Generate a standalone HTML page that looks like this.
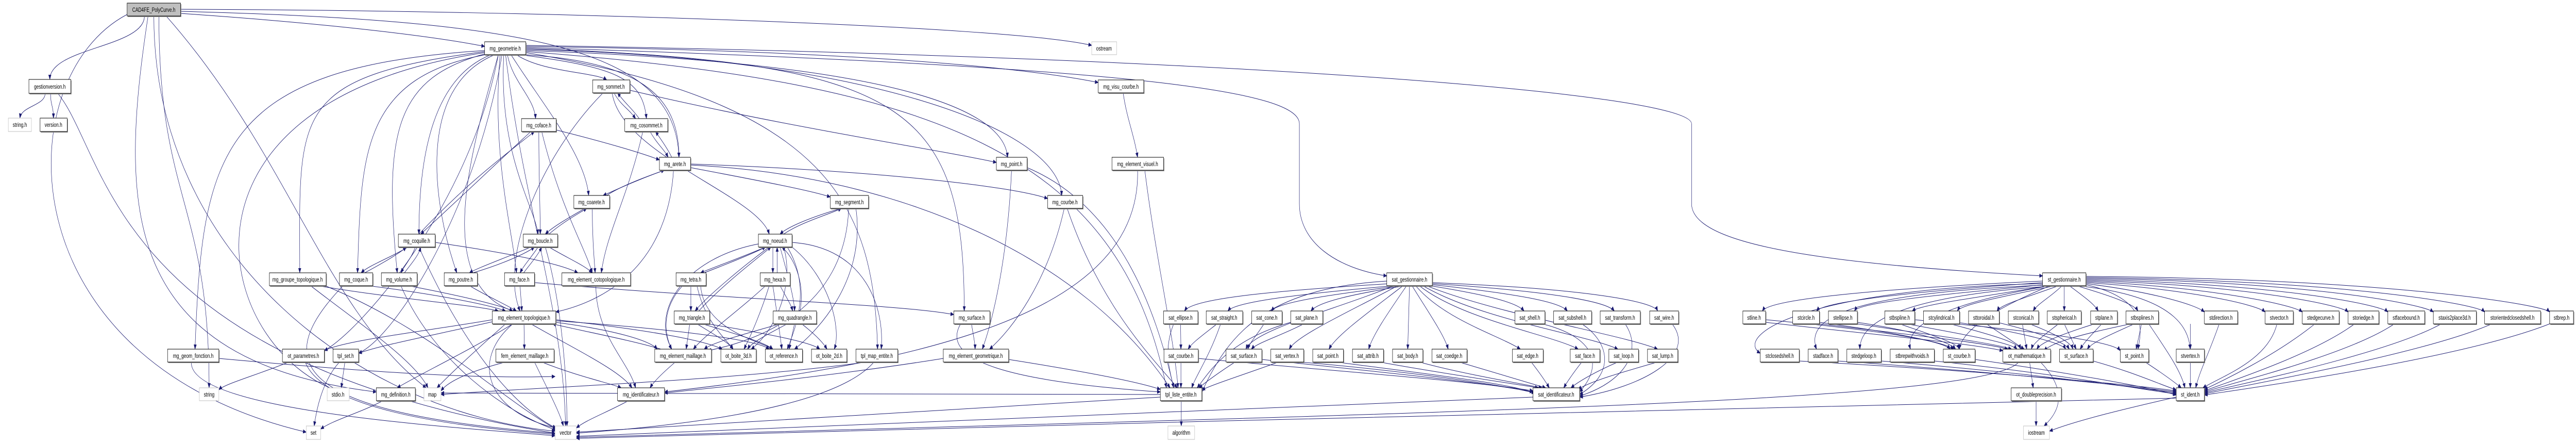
<!DOCTYPE html>
<html><head><meta charset="utf-8">
<style>
html,body{margin:0;padding:0;background:#fff;width:100%;height:100%;overflow:hidden;}
svg{display:block;width:100%;height:100%;}
.e path{fill:none;stroke:#191970;stroke-width:1;}
.n rect.b{fill:#fff;stroke:#000;stroke-width:1;}
.n rect.s{fill:#888;stroke:none;}
.g rect.b{fill:#fff;stroke:#bfbfbf;stroke-width:1;}
text{font-family:"Liberation Sans",sans-serif;font-size:12px;text-anchor:middle;fill:#000;}
</style></head><body>
<svg viewBox="0 0 7133 859" preserveAspectRatio="none" xmlns="http://www.w3.org/2000/svg">
<defs><marker id="a" markerWidth="10" markerHeight="8" refX="9" refY="4" orient="auto" markerUnits="userSpaceOnUse"><path d="M0,0 L10,4 L0,8z" fill="#191970"/></marker></defs>
<g class="e" marker-end="url(#a)">
<path d="M400 31 C400 92 138 92 138 154"/>
<path d="M440 31 C440 391 579 391 579 752"/>
<path d="M352 28 C20 150 10 700 848 838"/>
<path d="M426 31 C426 500 1000 800 1537 836"/>
<path d="M410 31 C330 400 330 700 1042 760"/>
<path d="M460 31 C800 300 900 600 1180 752"/>
<path d="M500 26 C900 45 1200 70 1342 90"/>
<path d="M500 18 C1500 20 2800 50 3023 88"/>
<path d="M500 22 C1500 40 1870 100 1880 305"/>
<path d="M125 181 C125 205 60 205 55 229"/>
<path d="M140 181 C140 205 148 205 148 229"/>
<path d="M160 181 C300 300 300 700 1537 840"/>
<path d="M1430 106 C1500 140 1650 140 1680 155"/>
<path d="M1440 106 C1700 130 1780 150 1790 230"/>
<path d="M1450 106 C1800 120 1880 200 1880 305"/>
<path d="M1415 106 C1500 200 1620 300 1630 379"/>
<path d="M1405 106 C1420 160 1480 190 1483 230"/>
<path d="M1395 106 C1380 300 1480 400 1490 454"/>
<path d="M1385 106 C1360 300 1420 450 1430 529"/>
<path d="M1360 106 C1200 150 1160 300 1160 454"/>
<path d="M1345 106 C1000 150 1000 300 990 529"/>
<path d="M1345 104 C1100 150 1060 250 1100 529"/>
<path d="M1370 106 C1150 170 1200 400 1265 529"/>
<path d="M1342 100 C800 150 830 220 830 529"/>
<path d="M1342 98 C600 130 560 300 540 677"/>
<path d="M1380 106 C1300 300 1200 550 1420 603"/>
<path d="M1456 98 C2400 120 2780 200 2790 305"/>
<path d="M1456 96 C2400 110 2930 250 2940 379"/>
<path d="M1456 94 C2500 120 2670 200 2670 603"/>
<path d="M1456 90 C2500 100 2900 140 3041 160"/>
<path d="M1456 100 C2600 160 3100 300 3230 752"/>
<path d="M1456 102 C2300 200 2420 400 2430 677"/>
<path d="M1380 106 C1300 400 1000 640 898 680"/>
<path d="M1390 106 C1320 400 1100 650 993 685"/>
<path d="M1342 102 C400 200 600 700 967 765"/>
<path d="M1400 106 C1450 400 1560 600 1566 826"/>
<path d="M1456 92 C3200 130 3598 180 3598 240 L3598 395 C3598 470 3700 520 3840 535"/>
<path d="M1456 88 C3400 110 4684 180 4684 240 L4684 395 C4684 470 5000 510 5656 535"/>
<path d="M1700 180 C1720 205 1740 210 1760 230"/>
<path d="M1770 230 C1750 210 1730 200 1710 180"/>
<path d="M1695 180 C1720 300 2100 380 2130 454"/>
<path d="M1670 180 C1500 300 1380 500 1440 603"/>
<path d="M1744 175 C2200 250 2600 290 2759 315"/>
<path d="M1800 255 C1820 280 1840 290 1850 305"/>
<path d="M1860 305 C1850 290 1830 270 1815 255"/>
<path d="M1780 255 C1740 380 1680 450 1665 529"/>
<path d="M1492 255 C1492 350 1496 400 1496 454"/>
<path d="M1500 255 C1550 400 1620 480 1640 529"/>
<path d="M1540 252 C1700 280 1790 300 1826 310"/>
<path d="M1160 454 C1300 350 1400 300 1480 255"/>
<path d="M1470 255 C1400 300 1250 400 1165 454"/>
<path d="M1840 330 C1760 350 1700 370 1670 379"/>
<path d="M1680 379 C1720 360 1800 340 1840 330"/>
<path d="M1912 325 C2100 350 2250 370 2299 382"/>
<path d="M1865 330 C1850 500 1700 580 1539 605"/>
<path d="M1912 320 C2500 340 3000 500 3240 752"/>
<path d="M1912 318 C2400 330 2800 360 2901 385"/>
<path d="M1620 404 C1580 420 1530 440 1510 454"/>
<path d="M1520 454 C1560 430 1600 415 1625 404"/>
<path d="M1640 404 C1640 460 1645 500 1648 529"/>
<path d="M2330 404 C2250 420 2180 440 2160 454"/>
<path d="M2170 454 C2220 430 2300 415 2330 404"/>
<path d="M2350 404 C2340 600 2100 660 1960 680"/>
<path d="M2370 404 C2400 550 2250 650 2200 677"/>
<path d="M2947 404 C2900 550 2800 640 2740 677"/>
<path d="M2955 404 C3050 600 3200 700 3260 752"/>
<path d="M2801 330 C2790 500 2750 620 2720 677"/>
<path d="M2844 325 C3100 400 3200 600 3250 752"/>
<path d="M3110 180 C3120 230 3140 260 3150 305"/>
<path d="M3150 330 C3160 600 2600 700 1840 760"/>
<path d="M3170 330 C3200 500 3250 650 3262 752"/>
<path d="M1130 479 C1080 500 1020 515 1000 529"/>
<path d="M1010 529 C1060 510 1110 490 1125 479"/>
<path d="M1150 479 C1140 500 1120 515 1110 529"/>
<path d="M1120 529 C1140 510 1160 495 1165 479"/>
<path d="M1160 479 C1300 700 1450 800 1540 830"/>
<path d="M1205 470 C1400 490 1550 510 1600 529"/>
<path d="M1470 479 C1400 500 1320 520 1300 529"/>
<path d="M1310 529 C1400 510 1460 490 1480 479"/>
<path d="M1490 479 C1470 500 1450 515 1440 529"/>
<path d="M1450 529 C1470 510 1490 495 1500 479"/>
<path d="M1520 479 C1570 500 1620 515 1640 529"/>
<path d="M1510 479 C1560 600 1570 750 1570 826"/>
<path d="M2120 479 C2050 500 1970 520 1940 529"/>
<path d="M1950 529 C2020 510 2090 490 2120 479"/>
<path d="M2140 479 L2140 529"/>
<path d="M2152 529 L2152 479"/>
<path d="M2130 479 C2050 520 1950 580 1925 603"/>
<path d="M1935 603 C1990 560 2080 510 2135 479"/>
<path d="M2160 479 C2180 530 2200 580 2200 603"/>
<path d="M2215 603 C2230 550 2200 500 2165 479"/>
<path d="M2100 473 C1900 500 1800 600 1860 677"/>
<path d="M2170 479 C2200 550 2150 640 2080 677"/>
<path d="M2180 479 C2250 560 2200 640 2180 677"/>
<path d="M2193 479 C2300 540 2330 640 2310 677"/>
<path d="M2193 470 C2400 480 2450 600 2440 677"/>
<path d="M880 554 C1100 580 1300 590 1380 603"/>
<path d="M860 554 C1000 630 1150 700 1185 752"/>
<path d="M900 554 C1200 640 1400 780 1540 832"/>
<path d="M1020 554 C1200 570 1350 590 1400 603"/>
<path d="M950 554 C750 700 800 800 1537 840"/>
<path d="M1130 554 C1250 570 1380 590 1420 603"/>
<path d="M1110 554 C1200 700 1400 800 1540 834"/>
<path d="M1300 554 C1350 575 1400 590 1430 603"/>
<path d="M1440 554 L1445 603"/>
<path d="M1480 548 C2000 580 2500 590 2641 610"/>
<path d="M1650 554 C1650 650 1740 700 1760 752"/>
<path d="M1913 554 L1913 603"/>
<path d="M1890 554 C1830 600 1840 650 1860 677"/>
<path d="M1930 554 C1950 620 2000 650 2030 677"/>
<path d="M1940 554 C1950 640 2100 660 2140 677"/>
<path d="M2160 554 C2180 580 2190 590 2195 603"/>
<path d="M2120 554 C2050 600 1950 650 1920 677"/>
<path d="M2130 554 C2110 600 2080 650 2060 677"/>
<path d="M2140 554 C2150 600 2160 650 2165 677"/>
<path d="M1451 628 L1452 677"/>
<path d="M1470 628 C1600 680 1720 720 1750 752"/>
<path d="M1420 628 C1300 700 1350 800 1540 830"/>
<path d="M1539 625 C1700 640 1800 660 1820 677"/>
<path d="M1830 677 C1750 660 1600 640 1530 628"/>
<path d="M1363 620 C1200 640 950 660 898 680"/>
<path d="M1363 624 C1200 650 1050 670 993 685"/>
<path d="M1420 628 C1300 680 1150 730 1100 752"/>
<path d="M1400 628 C1300 690 1240 730 1210 752"/>
<path d="M1539 620 C1800 640 1950 660 2000 677"/>
<path d="M1539 622 C1900 640 2100 660 2130 677"/>
<path d="M1910 628 L1900 677"/>
<path d="M1930 628 C1980 650 2020 665 2030 677"/>
<path d="M1945 628 C2050 650 2120 665 2140 677"/>
<path d="M1960 628 C2150 650 2250 665 2270 677"/>
<path d="M2160 628 C2050 650 1970 665 1950 677"/>
<path d="M2180 628 C2120 650 2080 665 2070 677"/>
<path d="M2200 628 L2185 677"/>
<path d="M2220 628 C2260 650 2280 665 2290 677"/>
<path d="M1500 702 C1600 730 1700 745 1720 752"/>
<path d="M1480 702 C1520 760 1550 800 1560 826"/>
<path d="M1400 702 C1300 720 1240 740 1221 758"/>
<path d="M1870 702 C1840 720 1810 740 1800 752"/>
<path d="M1740 777 C1680 800 1620 815 1596 830"/>
<path d="M2400 702 C2000 740 1500 750 1221 765"/>
<path d="M2420 702 C2300 800 1800 830 1596 840"/>
<path d="M2690 628 C2695 650 2700 665 2700 677"/>
<path d="M2660 628 C2600 700 2800 740 3213 760"/>
<path d="M2612 695 C2300 730 2000 750 1840 762"/>
<path d="M2793 697 C3000 720 3150 740 3213 755"/>
<path d="M3271 777 L3271 826"/>
<path d="M3213 770 C2500 800 1800 830 1596 838"/>
<path d="M3213 765 C2500 770 1800 762 1221 762"/>
<path d="M800 702 C700 730 620 745 606 756"/>
<path d="M845 702 C900 800 1300 830 1537 842"/>
<path d="M955 702 L945 752"/>
<path d="M940 702 C890 740 875 800 870 826"/>
<path d="M1060 777 C1000 800 920 815 888 832"/>
<path d="M530 702 C520 800 1300 830 1537 845"/>
<path d="M606 695 C1000 720 1300 735 1537 730"/>
<path d="M3850 550 C3500 565 3300 580 3280 603"/>
<path d="M3860 554 C3600 570 3420 585 3400 603"/>
<path d="M3880 554 C3700 570 3540 585 3520 603"/>
<path d="M3890 554 C3750 570 3650 585 3630 603"/>
<path d="M3960 554 C4100 570 4200 585 4220 603"/>
<path d="M3966 552 C4200 570 4320 585 4340 603"/>
<path d="M3966 550 C4300 565 4450 585 4470 603"/>
<path d="M3966 548 C4400 560 4580 585 4590 603"/>
<path d="M3860 554 C3700 600 3470 640 3450 677"/>
<path d="M3870 554 C3750 600 3590 650 3570 677"/>
<path d="M3885 554 C3800 600 3700 650 3680 677"/>
<path d="M3895 554 C3850 600 3800 650 3790 677"/>
<path d="M3903 554 L3898 677"/>
<path d="M3910 554 C3950 600 4000 650 4010 677"/>
<path d="M3920 554 C4000 620 4150 650 4210 677"/>
<path d="M3930 554 C4050 620 4300 650 4370 677"/>
<path d="M3940 554 C4100 620 4400 650 4480 677"/>
<path d="M3950 554 C4150 610 4500 650 4590 677"/>
<path d="M3840 545 C3500 560 3400 650 3328 760"/>
<path d="M3269 628 L3270 677"/>
<path d="M3250 628 C3220 680 3240 720 3250 752"/>
<path d="M3370 628 C3330 650 3300 665 3290 677"/>
<path d="M3380 628 C3350 690 3310 730 3300 752"/>
<path d="M3500 628 C3480 650 3460 665 3455 677"/>
<path d="M3610 628 C3550 650 3480 665 3465 677"/>
<path d="M3574 625 C3400 660 3350 720 3315 752"/>
<path d="M4270 628 C4400 650 4450 700 4374 760"/>
<path d="M4380 628 C4450 660 4480 720 4374 765"/>
<path d="M4500 628 C4550 680 4500 740 4374 768"/>
<path d="M4630 628 C4700 690 4550 750 4374 770"/>
<path d="M3318 695 C3700 720 4100 740 4245 758"/>
<path d="M3494 697 C3800 720 4100 740 4245 760"/>
<path d="M3600 702 C3900 720 4150 745 4250 762"/>
<path d="M3700 702 C3950 725 4200 745 4255 764"/>
<path d="M3820 702 C4000 725 4200 745 4260 752"/>
<path d="M3930 702 C4050 725 4220 745 4270 752"/>
<path d="M4040 702 C4150 725 4250 745 4280 752"/>
<path d="M4240 702 C4260 720 4280 740 4290 752"/>
<path d="M4380 702 C4360 720 4340 740 4330 752"/>
<path d="M4480 702 C4420 720 4370 740 4350 752"/>
<path d="M4590 702 C4500 720 4400 740 4370 755"/>
<path d="M3270 702 L3270 752"/>
<path d="M3420 702 C3380 720 3340 740 3320 752"/>
<path d="M3540 702 C3450 725 3360 745 3328 756"/>
<path d="M4245 770 C3000 800 2000 830 1596 846"/>
<path d="M5656 545 C5200 560 4900 580 4880 603"/>
<path d="M5656 548 C5300 565 5050 585 5030 603"/>
<path d="M5660 552 C5400 570 5150 585 5135 603"/>
<path d="M5670 554 C5500 575 5320 590 5295 603"/>
<path d="M5690 554 C5550 575 5430 590 5420 603"/>
<path d="M5700 554 C5620 575 5540 590 5530 603"/>
<path d="M5710 554 C5680 575 5640 590 5630 603"/>
<path d="M5716 554 L5716 603"/>
<path d="M5730 554 C5770 575 5800 590 5810 603"/>
<path d="M5750 554 C5850 575 5910 590 5920 603"/>
<path d="M5776 550 C5950 565 6080 590 6104 605"/>
<path d="M5776 548 C6050 560 6250 590 6272 605"/>
<path d="M5776 546 C6100 555 6350 590 6375 605"/>
<path d="M5776 544 C6200 552 6480 590 6502 605"/>
<path d="M5776 542 C6300 550 6590 590 6612 605"/>
<path d="M5776 540 C6400 546 6710 590 6738 605"/>
<path d="M5776 538 C6500 544 6860 590 6880 605"/>
<path d="M5776 536 C6600 540 7040 590 7060 605"/>
<path d="M5656 550 C5000 560 4800 650 4874 685"/>
<path d="M5656 553 C5100 570 5000 620 5030 677"/>
<path d="M5656 556 C5200 580 5150 640 5150 677"/>
<path d="M5660 556 C5300 600 5280 650 5290 677"/>
<path d="M5670 556 C5450 620 5430 660 5425 677"/>
<path d="M5776 552 C5950 580 5930 640 5920 677"/>
<path d="M5776 556 C6050 580 6060 650 6065 677"/>
<path d="M4889 620 C5200 640 5380 660 5400 677"/>
<path d="M4889 625 C5200 650 5450 665 5546 680"/>
<path d="M5038 625 C5250 645 5390 665 5410 677"/>
<path d="M5038 628 C5300 650 5500 665 5560 677"/>
<path d="M5143 625 C5330 645 5400 665 5415 677"/>
<path d="M5143 628 C5350 650 5520 665 5570 677"/>
<path d="M5260 628 C5350 650 5420 665 5425 677"/>
<path d="M5280 628 C5450 650 5570 665 5585 677"/>
<path d="M5302 620 C5600 640 5850 660 5871 680"/>
<path d="M5400 628 C5520 650 5590 665 5595 677"/>
<path d="M5420 625 C5600 645 5710 665 5720 677"/>
<path d="M5500 628 L5605 677"/>
<path d="M5530 625 C5650 645 5720 665 5730 677"/>
<path d="M5600 628 L5612 677"/>
<path d="M5620 628 C5700 650 5735 665 5740 677"/>
<path d="M5700 628 C5660 650 5630 665 5625 677"/>
<path d="M5716 628 L5749 677"/>
<path d="M5800 628 C5700 650 5650 665 5640 677"/>
<path d="M5820 628 C5790 650 5770 665 5760 677"/>
<path d="M5900 628 C5750 650 5680 665 5660 680"/>
<path d="M5910 628 C5840 650 5790 665 5780 677"/>
<path d="M5930 628 L5915 677"/>
<path d="M5950 628 C6000 680 6040 720 6050 752"/>
<path d="M6145 628 C6120 680 6090 720 6080 752"/>
<path d="M6305 628 C6280 700 6150 730 6100 752"/>
<path d="M6410 628 C6300 690 6150 740 6104 755"/>
<path d="M6520 628 C6400 690 6150 745 6104 758"/>
<path d="M6630 628 C6500 690 6150 748 6104 760"/>
<path d="M6760 628 C6600 690 6150 752 6104 762"/>
<path d="M6900 628 C6700 690 6150 755 6104 764"/>
<path d="M7060 628 C6800 700 6150 760 6104 766"/>
<path d="M4982 700 C5500 720 5900 745 6026 758"/>
<path d="M5089 700 C5500 720 5900 748 6026 760"/>
<path d="M5209 700 C5600 722 5900 750 6026 762"/>
<path d="M5356 700 C5700 725 5900 752 6026 764"/>
<path d="M5469 697 C5700 720 5950 750 6026 766"/>
<path d="M5796 700 C5900 720 5980 745 6026 756"/>
<path d="M5940 702 C5990 725 6020 740 6040 752"/>
<path d="M6065 702 L6065 752"/>
<path d="M6065 628 L6065 677"/>
<path d="M5620 702 L5630 752"/>
<path d="M5650 702 C5730 760 5700 800 5660 826"/>
<path d="M5590 702 C5500 780 4000 800 1596 848"/>
<path d="M5638 777 L5638 826"/>
<path d="M6026 772 C5000 790 3000 820 1596 850"/>
<path d="M6026 770 C5900 790 5750 815 5675 836"/>
</g>
<g class="n">
<rect class="s" x="354" y="8" width="148" height="25"/><rect x="352" y="6" width="148" height="25" fill="#bfbfbf" stroke="#000"/><text x="426" y="23">CAD4FE_PolyCurve.h</text>
<rect class="s" x="82" y="156" width="116" height="27"/><rect class="b" x="80" y="154" width="116" height="27"/><text x="138" y="172">gestionversion.h</text>
<rect class="s" x="113" y="231" width="75" height="26"/><rect class="b" x="111" y="229" width="75" height="26"/><text x="148" y="246">version.h</text>
<rect class="s" x="1344" y="83" width="114" height="25"/><rect class="b" x="1342" y="81" width="114" height="25"/><text x="1399" y="98">mg_geometrie.h</text>
<rect class="s" x="1643" y="157" width="103" height="25"/><rect class="b" x="1641" y="155" width="103" height="25"/><text x="1692" y="172">mg_sommet.h</text>
<rect class="s" x="3043" y="157" width="126" height="25"/><rect class="b" x="3041" y="155" width="126" height="25"/><text x="3104" y="172">mg_visu_courbe.h</text>
<rect class="s" x="1446" y="232" width="96" height="25"/><rect class="b" x="1444" y="230" width="96" height="25"/><text x="1492" y="247">mg_coface.h</text>
<rect class="s" x="1732" y="232" width="119" height="25"/><rect class="b" x="1730" y="230" width="119" height="25"/><text x="1790" y="247">mg_cosommet.h</text>
<rect class="s" x="1828" y="307" width="86" height="25"/><rect class="b" x="1826" y="305" width="86" height="25"/><text x="1869" y="322">mg_arete.h</text>
<rect class="s" x="2761" y="307" width="85" height="25"/><rect class="b" x="2759" y="305" width="85" height="25"/><text x="2801" y="322">mg_point.h</text>
<rect class="s" x="3081" y="307" width="143" height="25"/><rect class="b" x="3079" y="305" width="143" height="25"/><text x="3150" y="322">mg_element_visuel.h</text>
<rect class="s" x="1591" y="381" width="99" height="25"/><rect class="b" x="1589" y="379" width="99" height="25"/><text x="1638" y="396">mg_coarete.h</text>
<rect class="s" x="2301" y="381" width="106" height="25"/><rect class="b" x="2299" y="379" width="106" height="25"/><text x="2352" y="396">mg_segment.h</text>
<rect class="s" x="2903" y="381" width="97" height="25"/><rect class="b" x="2901" y="379" width="97" height="25"/><text x="2949" y="396">mg_courbe.h</text>
<rect class="s" x="1105" y="456" width="102" height="25"/><rect class="b" x="1103" y="454" width="102" height="25"/><text x="1154" y="471">mg_coquille.h</text>
<rect class="s" x="1451" y="456" width="95" height="25"/><rect class="b" x="1449" y="454" width="95" height="25"/><text x="1496" y="471">mg_boucle.h</text>
<rect class="s" x="2102" y="456" width="93" height="25"/><rect class="b" x="2100" y="454" width="93" height="25"/><text x="2146" y="471">mg_noeud.h</text>
<rect class="s" x="748" y="531" width="157" height="25"/><rect class="b" x="746" y="529" width="157" height="25"/><text x="824" y="546">mg_groupe_topologique.h</text>
<rect class="s" x="942" y="531" width="92" height="25"/><rect class="b" x="940" y="529" width="92" height="25"/><text x="986" y="546">mg_coque.h</text>
<rect class="s" x="1058" y="531" width="99" height="25"/><rect class="b" x="1056" y="529" width="99" height="25"/><text x="1105" y="546">mg_volume.h</text>
<rect class="s" x="1232" y="531" width="92" height="25"/><rect class="b" x="1230" y="529" width="92" height="25"/><text x="1276" y="546">mg_poutre.h</text>
<rect class="s" x="1399" y="531" width="83" height="25"/><rect class="b" x="1397" y="529" width="83" height="25"/><text x="1438" y="546">mg_face.h</text>
<rect class="s" x="1558" y="531" width="190" height="25"/><rect class="b" x="1556" y="529" width="190" height="25"/><text x="1651" y="546">mg_element_cotopologique.h</text>
<rect class="s" x="1874" y="531" width="83" height="25"/><rect class="b" x="1872" y="529" width="83" height="25"/><text x="1913" y="546">mg_tetra.h</text>
<rect class="s" x="2107" y="531" width="83" height="25"/><rect class="b" x="2105" y="529" width="83" height="25"/><text x="2146" y="546">mg_hexa.h</text>
<rect class="s" x="3842" y="531" width="126" height="25"/><rect class="b" x="3840" y="529" width="126" height="25"/><text x="3903" y="546">sat_gestionnaire.h</text>
<rect class="s" x="5658" y="531" width="120" height="25"/><rect class="b" x="5656" y="529" width="120" height="25"/><text x="5716" y="546">st_gestionnaire.h</text>
<rect class="s" x="1365" y="605" width="176" height="25"/><rect class="b" x="1363" y="603" width="176" height="25"/><text x="1451" y="620">mg_element_topologique.h</text>
<rect class="s" x="1869" y="605" width="98" height="25"/><rect class="b" x="1867" y="603" width="98" height="25"/><text x="1916" y="620">mg_triangle.h</text>
<rect class="s" x="2143" y="605" width="120" height="25"/><rect class="b" x="2141" y="603" width="120" height="25"/><text x="2201" y="620">mg_quadrangle.h</text>
<rect class="s" x="2643" y="605" width="100" height="25"/><rect class="b" x="2641" y="603" width="100" height="25"/><text x="2691" y="620">mg_surface.h</text>
<rect class="s" x="3224" y="605" width="95" height="25"/><rect class="b" x="3222" y="603" width="95" height="25"/><text x="3269" y="620">sat_ellipse.h</text>
<rect class="s" x="3342" y="605" width="101" height="25"/><rect class="b" x="3340" y="603" width="101" height="25"/><text x="3390" y="620">sat_straight.h</text>
<rect class="s" x="3468" y="605" width="84" height="25"/><rect class="b" x="3466" y="603" width="84" height="25"/><text x="3508" y="620">sat_cone.h</text>
<rect class="s" x="3576" y="605" width="89" height="25"/><rect class="b" x="3574" y="603" width="89" height="25"/><text x="3618" y="620">sat_plane.h</text>
<rect class="s" x="4197" y="605" width="83" height="25"/><rect class="b" x="4195" y="603" width="83" height="25"/><text x="4236" y="620">sat_shell.h</text>
<rect class="s" x="4304" y="605" width="105" height="25"/><rect class="b" x="4302" y="603" width="105" height="25"/><text x="4354" y="620">sat_subshell.h</text>
<rect class="s" x="4433" y="605" width="111" height="25"/><rect class="b" x="4431" y="603" width="111" height="25"/><text x="4486" y="620">sat_transform.h</text>
<rect class="s" x="4570" y="605" width="80" height="25"/><rect class="b" x="4568" y="603" width="80" height="25"/><text x="4608" y="620">sat_wire.h</text>
<rect class="s" x="4828" y="605" width="63" height="25"/><rect class="b" x="4826" y="603" width="63" height="25"/><text x="4857" y="620">stline.h</text>
<rect class="s" x="4966" y="605" width="74" height="25"/><rect class="b" x="4964" y="603" width="74" height="25"/><text x="5001" y="620">stcircle.h</text>
<rect class="s" x="5065" y="605" width="80" height="25"/><rect class="b" x="5063" y="603" width="80" height="25"/><text x="5103" y="620">stellipse.h</text>
<rect class="s" x="5221" y="605" width="83" height="25"/><rect class="b" x="5219" y="603" width="83" height="25"/><text x="5260" y="620">stbspline.h</text>
<rect class="s" x="5328" y="605" width="100" height="25"/><rect class="b" x="5326" y="603" width="100" height="25"/><text x="5376" y="620">stcylindrical.h</text>
<rect class="s" x="5453" y="605" width="85" height="25"/><rect class="b" x="5451" y="603" width="85" height="25"/><text x="5493" y="620">sttoroidal.h</text>
<rect class="s" x="5563" y="605" width="84" height="25"/><rect class="b" x="5561" y="603" width="84" height="25"/><text x="5603" y="620">stconical.h</text>
<rect class="s" x="5671" y="605" width="94" height="25"/><rect class="b" x="5669" y="603" width="94" height="25"/><text x="5716" y="620">stspherical.h</text>
<rect class="s" x="5791" y="605" width="74" height="25"/><rect class="b" x="5789" y="603" width="74" height="25"/><text x="5826" y="620">stplane.h</text>
<rect class="s" x="5889" y="605" width="90" height="25"/><rect class="b" x="5887" y="603" width="90" height="25"/><text x="5932" y="620">stbsplines.h</text>
<rect class="s" x="6106" y="605" width="92" height="25"/><rect class="b" x="6104" y="603" width="92" height="25"/><text x="6150" y="620">stdirection.h</text>
<rect class="s" x="6274" y="605" width="78" height="25"/><rect class="b" x="6272" y="603" width="78" height="25"/><text x="6311" y="620">stvector.h</text>
<rect class="s" x="6377" y="605" width="102" height="25"/><rect class="b" x="6375" y="603" width="102" height="25"/><text x="6426" y="620">stedgecurve.h</text>
<rect class="s" x="6504" y="605" width="85" height="25"/><rect class="b" x="6502" y="603" width="85" height="25"/><text x="6544" y="620">storiedge.h</text>
<rect class="s" x="6614" y="605" width="102" height="25"/><rect class="b" x="6612" y="603" width="102" height="25"/><text x="6663" y="620">stfacebound.h</text>
<rect class="s" x="6740" y="605" width="119" height="25"/><rect class="b" x="6738" y="603" width="119" height="25"/><text x="6797" y="620">staxis2place3d.h</text>
<rect class="s" x="6882" y="605" width="155" height="25"/><rect class="b" x="6880" y="603" width="155" height="25"/><text x="6957" y="620">storientedclosedshell.h</text>
<rect class="s" x="7062" y="605" width="66" height="25"/><rect class="b" x="7060" y="603" width="66" height="25"/><text x="7093" y="620">stbrep.h</text>
<rect class="s" x="466" y="679" width="142" height="25"/><rect class="b" x="464" y="677" width="142" height="25"/><text x="535" y="694">mg_geom_fonction.h</text>
<rect class="s" x="784" y="679" width="116" height="25"/><rect class="b" x="782" y="677" width="116" height="25"/><text x="840" y="694">ot_parametres.h</text>
<rect class="s" x="924" y="679" width="71" height="25"/><rect class="b" x="922" y="677" width="71" height="25"/><text x="957" y="694">tpl_set.h</text>
<rect class="s" x="1375" y="679" width="161" height="25"/><rect class="b" x="1373" y="677" width="161" height="25"/><text x="1453" y="694">fem_element_maillage.h</text>
<rect class="s" x="1815" y="679" width="157" height="25"/><rect class="b" x="1813" y="677" width="157" height="25"/><text x="1891" y="694">mg_element_maillage.h</text>
<rect class="s" x="1998" y="679" width="98" height="25"/><rect class="b" x="1996" y="677" width="98" height="25"/><text x="2045" y="694">ot_boite_3d.h</text>
<rect class="s" x="2121" y="679" width="103" height="25"/><rect class="b" x="2119" y="677" width="103" height="25"/><text x="2170" y="694">ot_reference.h</text>
<rect class="s" x="2249" y="679" width="98" height="25"/><rect class="b" x="2247" y="677" width="98" height="25"/><text x="2296" y="694">ot_boite_2d.h</text>
<rect class="s" x="2372" y="679" width="116" height="25"/><rect class="b" x="2370" y="677" width="116" height="25"/><text x="2428" y="694">tpl_map_entite.h</text>
<rect class="s" x="2614" y="679" width="181" height="25"/><rect class="b" x="2612" y="677" width="181" height="25"/><text x="2702" y="694">mg_element_geometrique.h</text>
<rect class="s" x="3225" y="679" width="95" height="25"/><rect class="b" x="3223" y="677" width="95" height="25"/><text x="3270" y="694">sat_courbe.h</text>
<rect class="s" x="3397" y="679" width="99" height="25"/><rect class="b" x="3395" y="677" width="99" height="25"/><text x="3444" y="694">sat_surface.h</text>
<rect class="s" x="3521" y="679" width="91" height="25"/><rect class="b" x="3519" y="677" width="91" height="25"/><text x="3564" y="694">sat_vertex.h</text>
<rect class="s" x="3637" y="679" width="85" height="25"/><rect class="b" x="3635" y="677" width="85" height="25"/><text x="3677" y="694">sat_point.h</text>
<rect class="s" x="3747" y="679" width="86" height="25"/><rect class="b" x="3745" y="677" width="86" height="25"/><text x="3788" y="694">sat_attrib.h</text>
<rect class="s" x="3858" y="679" width="84" height="25"/><rect class="b" x="3856" y="677" width="84" height="25"/><text x="3898" y="694">sat_body.h</text>
<rect class="s" x="3967" y="679" width="97" height="25"/><rect class="b" x="3965" y="677" width="97" height="25"/><text x="4013" y="694">sat_coedge.h</text>
<rect class="s" x="4190" y="679" width="85" height="25"/><rect class="b" x="4188" y="677" width="85" height="25"/><text x="4230" y="694">sat_edge.h</text>
<rect class="s" x="4350" y="679" width="82" height="25"/><rect class="b" x="4348" y="677" width="82" height="25"/><text x="4389" y="694">sat_face.h</text>
<rect class="s" x="4457" y="679" width="82" height="25"/><rect class="b" x="4455" y="677" width="82" height="25"/><text x="4496" y="694">sat_loop.h</text>
<rect class="s" x="4564" y="679" width="84" height="25"/><rect class="b" x="4562" y="677" width="84" height="25"/><text x="4604" y="694">sat_lump.h</text>
<rect class="s" x="4876" y="679" width="108" height="25"/><rect class="b" x="4874" y="677" width="108" height="25"/><text x="4928" y="694">stclosedshell.h</text>
<rect class="s" x="5009" y="679" width="82" height="25"/><rect class="b" x="5007" y="677" width="82" height="25"/><text x="5048" y="694">stadface.h</text>
<rect class="s" x="5116" y="679" width="95" height="25"/><rect class="b" x="5114" y="677" width="95" height="25"/><text x="5161" y="694">stedgeloop.h</text>
<rect class="s" x="5236" y="679" width="122" height="25"/><rect class="b" x="5234" y="677" width="122" height="25"/><text x="5295" y="694">stbrepwithvoids.h</text>
<rect class="s" x="5383" y="679" width="88" height="25"/><rect class="b" x="5381" y="677" width="88" height="25"/><text x="5425" y="694">st_courbe.h</text>
<rect class="s" x="5548" y="679" width="132" height="25"/><rect class="b" x="5546" y="677" width="132" height="25"/><text x="5612" y="694">ot_mathematique.h</text>
<rect class="s" x="5705" y="679" width="93" height="25"/><rect class="b" x="5703" y="677" width="93" height="25"/><text x="5749" y="694">st_surface.h</text>
<rect class="s" x="5873" y="679" width="79" height="25"/><rect class="b" x="5871" y="677" width="79" height="25"/><text x="5910" y="694">st_point.h</text>
<rect class="s" x="6028" y="679" width="78" height="25"/><rect class="b" x="6026" y="677" width="78" height="25"/><text x="6065" y="694">stvertex.h</text>
<rect class="s" x="1044" y="754" width="108" height="25"/><rect class="b" x="1042" y="752" width="108" height="25"/><text x="1096" y="769">mg_definition.h</text>
<rect class="s" x="1712" y="754" width="130" height="25"/><rect class="b" x="1710" y="752" width="130" height="25"/><text x="1775" y="769">mg_identificateur.h</text>
<rect class="s" x="3215" y="754" width="115" height="25"/><rect class="b" x="3213" y="752" width="115" height="25"/><text x="3270" y="769">tpl_liste_entite.h</text>
<rect class="s" x="4247" y="754" width="129" height="25"/><rect class="b" x="4245" y="752" width="129" height="25"/><text x="4309" y="769">sat_identificateur.h</text>
<rect class="s" x="5571" y="754" width="139" height="25"/><rect class="b" x="5569" y="752" width="139" height="25"/><text x="5638" y="769">ot_doubleprecision.h</text>
<rect class="s" x="6028" y="754" width="78" height="25"/><rect class="b" x="6026" y="752" width="78" height="25"/><text x="6065" y="769">st_ident.h</text>
</g>
<g class="g">
<rect class="b" x="23" y="229" width="64" height="26"/><text x="55" y="246">string.h</text>
<rect class="b" x="3023" y="81" width="69" height="25"/><text x="3057" y="98">ostream</text>
<rect class="b" x="552" y="752" width="54" height="25"/><text x="579" y="769">string</text>
<rect class="b" x="906" y="752" width="61" height="25"/><text x="936" y="769">stdio.h</text>
<rect class="b" x="1174" y="752" width="47" height="25"/><text x="1197" y="769">map</text>
<rect class="b" x="848" y="826" width="40" height="26"/><text x="868" y="843">set</text>
<rect class="b" x="1537" y="826" width="59" height="26"/><text x="1566" y="843">vector</text>
<rect class="b" x="3234" y="826" width="74" height="26"/><text x="3271" y="843">algorithm</text>
<rect class="b" x="5603" y="826" width="72" height="26"/><text x="5639" y="843">iostream</text>
</g>
</svg>
</body></html>
